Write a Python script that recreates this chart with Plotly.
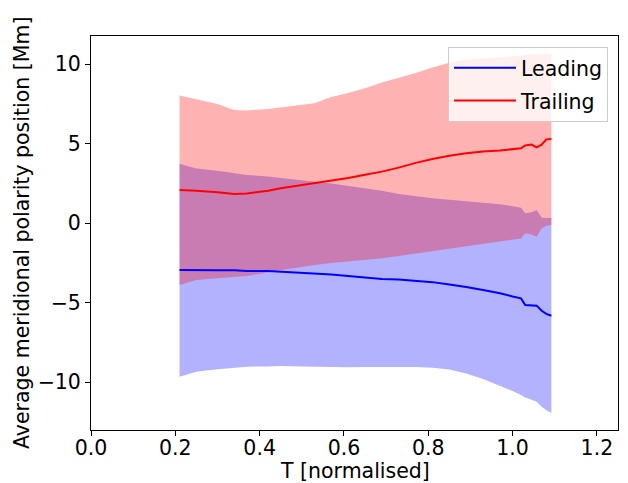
import plotly.graph_objects as go

t = [0.21, 0.25, 0.30, 0.34, 0.37, 0.42, 0.45, 0.50, 0.53, 0.57, 0.61, 0.65, 0.69, 0.73,
     0.77, 0.81, 0.85, 0.89, 0.93, 0.97, 1.00, 1.02, 1.03, 1.045, 1.057, 1.069, 1.08, 1.092]

trailing_upper = [8.03, 7.8, 7.5, 7.13, 7.1, 7.19, 7.3, 7.45, 7.55, 7.95, 8.2, 8.5, 8.85, 9.15,
                  9.45, 9.8, 10.1, 10.3, 10.4, 10.45, 10.5, 10.55, 10.6, 10.6, 10.63, 10.65, 10.65, 10.65]
trailing_mean = [2.09, 2.05, 1.95, 1.84, 1.88, 2.05, 2.2, 2.4, 2.55, 2.7, 2.85, 3.05, 3.25, 3.5,
                 3.8, 4.05, 4.25, 4.4, 4.52, 4.58, 4.65, 4.72, 4.9, 4.95, 4.78, 4.95, 5.28, 5.3]
trailing_lower = [-3.88, -3.57, -3.45, -3.38, -3.31, -3.1, -2.94, -2.75, -2.62, -2.5, -2.41, -2.3, -2.2, -2.05,
                  -1.9, -1.75, -1.6, -1.45, -1.3, -1.17, -1.05, -0.95, -0.63, -0.7, -0.84, -0.31, -0.15, -0.1]

leading_upper = [3.75, 3.45, 3.3, 3.15, 3.04, 2.95, 2.85, 2.72, 2.62, 2.5, 2.35, 2.2, 2.05, 1.85,
                 1.7, 1.58, 1.48, 1.4, 1.3, 1.2, 1.08, 0.98, 0.63, 0.7, 0.84, 0.35, 0.33, 0.35]
leading_mean = [-2.94, -2.97, -2.96, -2.95, -3.0, -3.0, -3.04, -3.1, -3.15, -3.22, -3.31, -3.42, -3.5, -3.54,
                -3.6, -3.7, -3.85, -4.0, -4.2, -4.4, -4.6, -4.72, -5.14, -5.15, -5.18, -5.5, -5.7, -5.81]
leading_lower = [-9.65, -9.33, -9.18, -9.1, -9.02, -9.0, -8.98, -9.0, -9.02, -9.04, -9.06, -9.04, -9.02, -9.03,
                 -9.03, -9.08, -9.2, -9.45, -9.8, -10.2, -10.55, -10.8, -10.95, -11.1, -11.22, -11.53, -11.75, -11.91]

x_title = "T [normalised]"
y_title = "Average meridional polarity position [Mm]"

FONT = "DejaVu Sans"
FS = 20.5

fig = go.Figure()
# Leading band
fig.add_trace(go.Scatter(x=t, y=leading_lower, mode="lines", line=dict(width=0),
                         showlegend=False, hoverinfo="skip"))
fig.add_trace(go.Scatter(x=t, y=leading_upper, mode="lines", line=dict(width=0),
                         fill="tonexty", fillcolor="rgba(0,0,255,0.3)",
                         showlegend=False, hoverinfo="skip"))
# Trailing band
fig.add_trace(go.Scatter(x=t, y=trailing_lower, mode="lines", line=dict(width=0),
                         showlegend=False, hoverinfo="skip"))
fig.add_trace(go.Scatter(x=t, y=trailing_upper, mode="lines", line=dict(width=0),
                         fill="tonexty", fillcolor="rgba(255,0,0,0.3)",
                         showlegend=False, hoverinfo="skip"))
# Mean lines
fig.add_trace(go.Scatter(x=t, y=leading_mean, mode="lines", name="Leading", legendgroup="a",
                         line=dict(color="blue", width=2)))
fig.add_trace(go.Scatter(x=t, y=trailing_mean, mode="lines", name="Trailing", legendgroup="b",
                         line=dict(color="red", width=2)))

axis_common = dict(showline=True, linecolor="black", linewidth=1, mirror=True,
                   ticks="outside", ticklen=5, tickwidth=1, tickcolor="black",
                   showgrid=False, zeroline=False, automargin=False,
                   tickfont=dict(family=FONT, size=FS, color="black"))

fig.update_layout(
    width=628, height=483,
    margin=dict(l=91, r=10, t=36, b=53),
    paper_bgcolor="white", plot_bgcolor="white",
    font=dict(family=FONT, size=FS, color="black"),
    xaxis=dict(range=[0, 1.25], tickmode="array",
               tickvals=[0.0, 0.2, 0.4, 0.6, 0.8, 1.0, 1.2],
               ticktext=["0.0", "0.2", "0.4", "0.6", "0.8", "1.0", "1.2"],
               ticklabelstandoff=-6,
               **axis_common),
    yaxis=dict(range=[-13.0, 11.78], tickmode="array",
               tickvals=[-10, -5, 0, 5, 10],
               ticktext=["\u221210", "\u22125", "0", "5", "10"],
               **axis_common),
    legend=dict(x=0.981, y=0.972, xanchor="right", yanchor="top",
                bgcolor="rgba(255,255,255,0.8)", bordercolor="#cccccc", borderwidth=1,
                font=dict(family=FONT, size=FS, color="black"),
                traceorder="grouped", tracegroupgap=3, itemwidth=62),
    annotations=[
        dict(text=x_title, xref="paper", yref="paper", x=0.5, y=0,
             xanchor="center", yanchor="middle", yshift=-41, showarrow=False,
             font=dict(family=FONT, size=FS, color="black")),
        dict(text=y_title, xref="paper", yref="paper", x=0, y=0.5,
             xanchor="center", yanchor="middle", xshift=-69, textangle=-90, showarrow=False,
             font=dict(family=FONT, size=FS, color="black")),
    ],
)

fig.write_html("out.html")
